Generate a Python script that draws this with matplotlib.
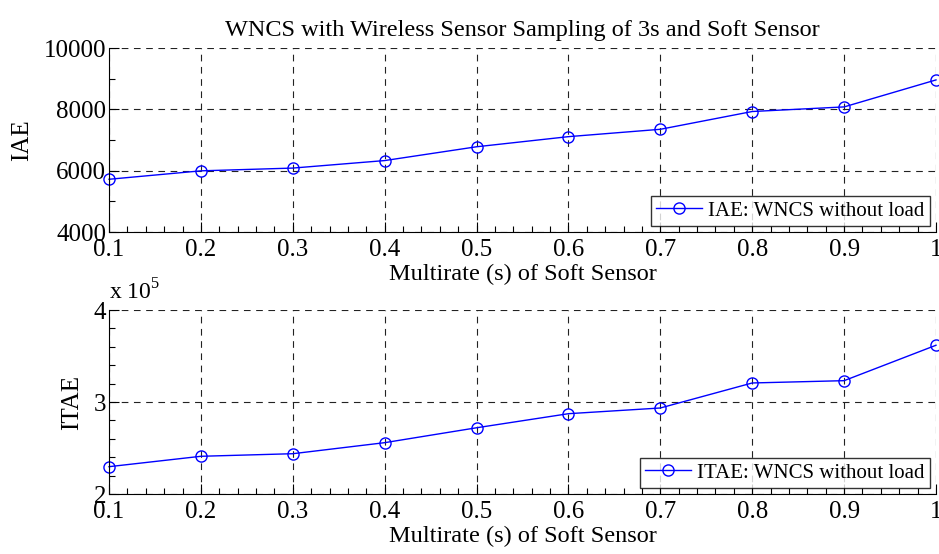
import matplotlib
matplotlib.use("Agg")
import matplotlib.pyplot as plt
from matplotlib.ticker import MultipleLocator, FixedLocator, FuncFormatter

plt.rcParams['font.family'] = ['Liberation Serif', 'DejaVu Serif']
plt.rcParams['mathtext.fontset'] = 'custom'
plt.rcParams['mathtext.rm'] = 'Liberation Serif'

rates = [0.1, 0.2, 0.3, 0.4, 0.5, 0.6, 0.7, 0.8, 0.9, 1.0]
iae = [5720, 5995, 6085, 6330, 6780, 7110, 7350, 7930, 8080, 8960]
itae = [2.297e5, 2.41e5, 2.438e5, 2.558e5, 2.72e5, 2.873e5, 2.935e5, 3.207e5, 3.232e5, 3.617e5]
xticks = [0.1, 0.2, 0.3, 0.4, 0.5, 0.6, 0.7, 0.8, 0.9, 1.0]
xticklabels = ['0.1', '0.2', '0.3', '0.4', '0.5', '0.6', '0.7', '0.8', '0.9', '1']

fig = plt.figure(figsize=(9.39, 5.54), dpi=100)
ax1 = fig.add_axes([0.1161, 0.5812, 0.8807, 0.3321])
ax2 = fig.add_axes([0.1161, 0.1083, 0.8807, 0.3321])

def style(ax):
    ax.set_xlim(0.1, 1.0)
    ax.xaxis.set_major_locator(FixedLocator(xticks))
    ax.set_xticklabels(xticklabels)
    ax.xaxis.set_minor_locator(MultipleLocator(0.02))
    for s in ['top', 'right']:
        ax.spines[s].set_visible(False)
    ax.tick_params(which='both', direction='in', top=False, right=False, labelsize=18)
    ax.tick_params(which='major', length=7, width=0.8)
    ax.tick_params(which='minor', length=4, width=0.8)
    ax.tick_params(axis='x', pad=5)
    ax.tick_params(axis='y', pad=2)
    ax.grid(True, which='major', linestyle=(0, (6, 5)), color='#222222', linewidth=0.8)
    ax.set_axisbelow(True)
    ax.set_xlabel('Multirate (s) of Soft Sensor', fontsize=17.5, labelpad=2)

ax1.plot(rates, iae, color='#0000ff', linewidth=1.0, marker='o', markersize=8,
         markerfacecolor='none', markeredgecolor='#0000ff', markeredgewidth=1.0,
         label='IAE: WNCS without load', clip_on=False)
style(ax1)
ax1.set_ylim(4000, 10000)
ax1.yaxis.set_major_locator(MultipleLocator(2000))
ax1.yaxis.set_minor_locator(MultipleLocator(1000))
ax1.set_ylabel('IAE', fontsize=18, labelpad=8)
ax1.set_title('WNCS with Wireless Sensor Sampling of 3s and Soft Sensor', fontsize=17.5, pad=9)
leg1 = ax1.legend(loc='lower right', fontsize=15, frameon=True, fancybox=False,
                  edgecolor='black', borderpad=0.25, handlelength=2.2, handletextpad=0.3,
                  borderaxespad=0.3)
leg1.get_frame().set_linewidth(1.0)

ax2.plot(rates, [v / 1e5 for v in itae], color='#0000ff', linewidth=1.0, marker='o', markersize=8,
         markerfacecolor='none', markeredgecolor='#0000ff', markeredgewidth=1.0,
         label='ITAE: WNCS without load', clip_on=False)
style(ax2)
ax2.set_ylim(2, 4)
ax2.yaxis.set_major_locator(MultipleLocator(1))
ax2.yaxis.set_minor_locator(MultipleLocator(0.2))
ax2.yaxis.set_major_formatter(FuncFormatter(lambda v, p: '%d' % round(v)))
ax2.set_ylabel('ITAE', fontsize=18, labelpad=8)
ax2.text(0.0, 1.03, r'x 10$^5$', transform=ax2.transAxes, fontsize=17, ha='left', va='bottom')
leg2 = ax2.legend(loc='lower right', fontsize=15, frameon=True, fancybox=False,
                  edgecolor='black', borderpad=0.25, handlelength=2.2, handletextpad=0.3,
                  borderaxespad=0.3)
leg2.get_frame().set_linewidth(1.0)

fig.savefig('out.png', dpi=100)
